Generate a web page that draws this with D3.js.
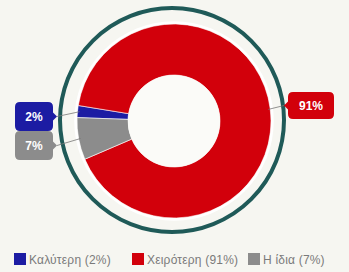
<!DOCTYPE html>
<html>
<head>
<meta charset="utf-8">
<script src="https://cdn.jsdelivr.net/npm/d3@7"></script>
<style>
  body { margin: 0; background: #f6f6f1; }
  svg { display: block; font-family: "Liberation Sans", Arial, sans-serif; }
</style>
</head>
<body>
<script>
var width = 349;
var height = 272;

// data
var categories = ['Καλύτερη', 'Χειρότερη', 'Η ίδια'];
var values = [2, 91, 7];
var colors = ['#1c1ca3', '#d2000b', '#8c8c8c'];

var cx = 174, cy = 121;
var outerR = 97, innerR = 46;

var svg = d3.select('body')
  .append('svg')
  .attr('width', width)
  .attr('height', height);

// outer ring
svg.append('circle')
  .attr('cx', cx - 2)
  .attr('cy', cy - 1)
  .attr('r', 112)
  .attr('fill', 'none')
  .attr('stroke', '#1f5a58')
  .attr('stroke-width', 4);

var pie = d3.pie()
  .sort(null)
  .startAngle(272 * Math.PI / 180)
  .endAngle((272 + 360) * Math.PI / 180);

var arc = d3.arc()
  .innerRadius(innerR)
  .outerRadius(outerR);

var arcs = pie(values);

var g = svg.append('g')
  .attr('transform', 'translate(' + cx + ',' + cy + ')');

g.selectAll('path')
  .data(arcs)
  .enter()
  .append('path')
  .attr('d', arc)
  .attr('fill', function(d, i) { return colors[i]; })
  .attr('stroke', '#ffffff')
  .attr('stroke-width', 0.6);

// white border round the donut
g.append('circle').attr('r', outerR + 1.5).attr('fill', 'none')
  .attr('stroke', '#ffffff').attr('stroke-width', 2.5);
g.append('circle').attr('r', innerR).attr('fill', '#fbfbf8');

// labels: box position (left x, top y, w, h) and pointer side
var labelBoxes = [
  { x: 15, y: 102, w: 38, h: 29, side: 'right' },
  { x: 288, y: 92, w: 46, h: 27, side: 'left' },
  { x: 15, y: 131, w: 38, h: 29, side: 'right' }
];

function boxPath(b) {
  var r = 5, x0 = b.x, y0 = b.y, x1 = b.x + b.w, y1 = b.y + b.h, my = (y0 + y1) / 2;
  var p = 'M' + (x0 + r) + ',' + y0 + 'H' + (x1 - r) + 'Q' + x1 + ',' + y0 + ' ' + x1 + ',' + (y0 + r);
  if (b.side == 'right') p += 'V' + (my - 4) + 'L' + (x1 + 4) + ',' + my + 'L' + x1 + ',' + (my + 4);
  p += 'V' + (y1 - r) + 'Q' + x1 + ',' + y1 + ' ' + (x1 - r) + ',' + y1 + 'H' + (x0 + r) +
    'Q' + x0 + ',' + y1 + ' ' + x0 + ',' + (y1 - r);
  if (b.side == 'left') p += 'V' + (my + 4) + 'L' + (x0 - 4) + ',' + my + 'L' + x0 + ',' + (my - 4);
  p += 'V' + (y0 + r) + 'Q' + x0 + ',' + y0 + ' ' + (x0 + r) + ',' + y0 + 'Z';
  return p;
}

var total = d3.sum(values);

arcs.forEach(function(d, i) {
  var b = labelBoxes[i];
  var mid = (d.startAngle + d.endAngle) / 2;
  var px = cx + Math.sin(mid) * (outerR - 2);
  var py = cy - Math.cos(mid) * (outerR - 2);
  var my = b.y + b.h / 2;
  var tx = b.side == 'right' ? b.x + b.w + 4 : b.x - 4;
  svg.append('line')
    .attr('x1', px).attr('y1', py)
    .attr('x2', tx).attr('y2', my)
    .attr('stroke', '#777')
    .attr('stroke-width', 0.8);
  svg.append('path')
    .attr('d', boxPath(b))
    .attr('fill', colors[i]);
  svg.append('text')
    .attr('x', b.x + b.w / 2)
    .attr('y', my + 4.5)
    .attr('text-anchor', 'middle')
    .attr('fill', '#ffffff')
    .attr('font-size', 12)
    .attr('font-weight', 'bold')
    .text(Math.round(values[i] / total * 100) + '%');
});

// legend
var legendX = [14, 132, 248];
var legend = svg.append('g')
  .selectAll('g')
  .data(categories)
  .enter()
  .append('g')
  .attr('transform', function(d, i) { return 'translate(' + legendX[i] + ',253)'; });

legend.append('rect')
  .attr('width', 12)
  .attr('height', 12)
  .attr('fill', function(d, i) { return colors[i]; });

legend.append('text')
  .attr('x', 15)
  .attr('y', 10.5)
  .attr('fill', '#7a7a7a')
  .attr('font-size', 12)
  .attr('letter-spacing', 0.2)
  .text(function(d, i) { return d + ' (' + values[i] + '%)'; });
</script>
</body>
</html>
